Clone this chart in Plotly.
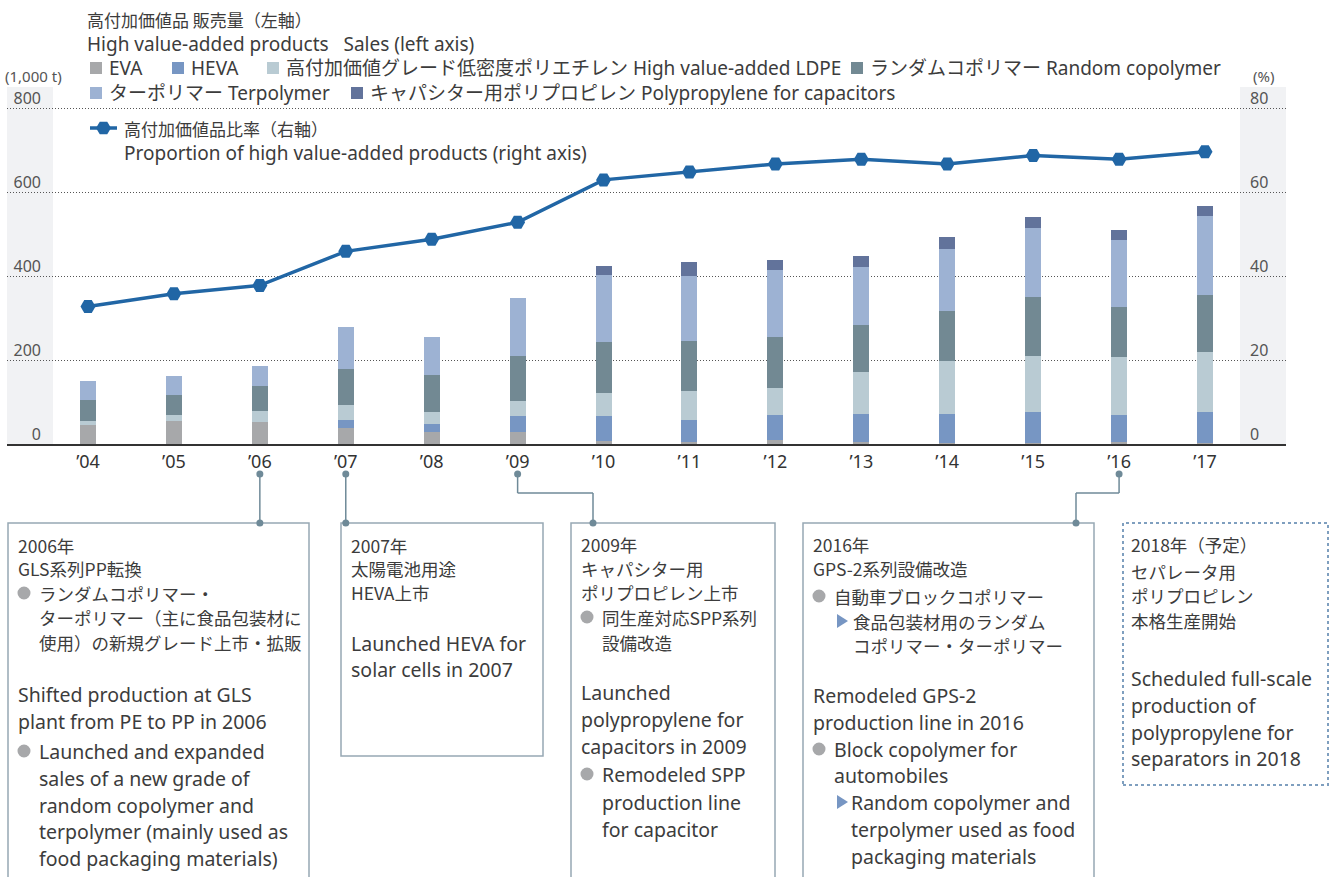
import plotly.graph_objects as go

# ---------------- data ----------------
years = [2004, 2005, 2006, 2007, 2008, 2009, 2010, 2011, 2012, 2013, 2014, 2015, 2016, 2017]
year_labels = ["’04", "’05", "’06", "’07", "’08", "’09", "’10", "’11", "’12", "’13", "’14", "’15", "’16", "’17"]

# sales volume (1,000 t), stacked bottom -> top
eva = [46, 55, 53, 39, 29, 29, 8, 5, 10, 5, 3, 2, 5, 2]
heva = [0, 0, 0, 19, 19, 38, 60, 53, 60, 67, 69, 75, 64, 75]
ldpe = [9, 15, 26, 36, 29, 36, 55, 69, 64, 100, 126, 133, 138, 143]
random_copolymer = [50, 48, 59, 86, 88, 107, 121, 119, 122, 112, 119, 141, 119, 136]
terpolymer = [45, 45, 48, 100, 91, 138, 159, 155, 159, 138, 148, 164, 159, 188]
capacitor_pp = [0, 0, 0, 0, 0, 0, 21, 33, 24, 26, 29, 26, 24, 24]

# share of high value-added products (%)
ratio = [32.8, 35.8, 37.8, 45.9, 48.8, 52.8, 62.9, 64.8, 66.7, 67.8, 66.7, 68.7, 67.8, 69.6]

series_names = [
    "EVA",
    "HEVA",
    "高付加価値グレード低密度ポリエチレン High value-added LDPE",
    "ランダムコポリマー Random copolymer",
    "ターポリマー Terpolymer",
    "キャパシター用ポリプロピレン Polypropylene for capacitors",
]
series_values = [eva, heva, ldpe, random_copolymer, terpolymer, capacitor_pp]
series_colors = ["#a7a8aa", "#7796c3", "#b9cbd3", "#728993", "#9db2d3", "#62739b"]

left_ticks = [0, 200, 400, 600, 800]
right_ticks = [0, 20, 40, 60, 80]

# ---------------- styling ----------------
W, H = 1334, 877
LINE_C = "#2166a5"
TEXT_C = "#3c3c3c"
FONT_JP = "Noto Sans CJK JP"
FONT_EN = "Noto Sans, Noto Sans CJK JP"
BOX_C = "#97a8b4"
CONN_C = "#6f8a98"


def px(x):
    return x / W


def py(y):
    return 1 - y / H


# plot area in pixels
X0, X1 = 7, 1286
Y_TOP, Y_BASE, Y_800 = 87, 444.3, 108
FIRST_PX, LAST_PX = 88, 1205
step = (LAST_PX - FIRST_PX) / (years[-1] - years[0])
x_range = [years[0] - (FIRST_PX - X0) / step, years[-1] + (X1 - LAST_PX) / step]
left_top = 800 * (Y_BASE - Y_TOP) / (Y_BASE - Y_800)

fig = go.Figure()

for name, vals, color in zip(series_names, series_values, series_colors):
    fig.add_trace(go.Bar(
        x=years, y=vals, name=name, width=16 / step,
        marker=dict(color=color, line=dict(width=0)),
        showlegend=False, hoverinfo="skip",
    ))

fig.add_trace(go.Scatter(
    x=years, y=ratio, yaxis="y2", mode="lines+markers",
    line=dict(color=LINE_C, width=3.5),
    marker=dict(symbol="hexagon2", size=15, color=LINE_C),
    showlegend=False, hoverinfo="skip",
))

fig.update_layout(
    width=W, height=H, autosize=False,
    margin=dict(l=0, r=0, t=0, b=0, pad=0, autoexpand=False),
    showlegend=False,
    paper_bgcolor="white", plot_bgcolor="white",
    barmode="stack",
    font=dict(family=FONT_EN, color=TEXT_C),
    xaxis=dict(
        domain=[px(X0), px(X1)], range=x_range,
        tickvals=years, ticktext=year_labels,
        showgrid=False, zeroline=False, automargin=False,
        showline=True, linecolor="#333333", linewidth=2,
        ticks="", tickfont=dict(size=18, color="#333333", family=FONT_EN),
    ),
    yaxis=dict(
        domain=[py(Y_BASE), py(Y_TOP)], range=[0, left_top],
        tickvals=left_ticks, showgrid=True, gridcolor="#555555",
        griddash="1px,2px", gridwidth=1, zeroline=False, showline=False,
        ticks="", anchor="free", position=px(41), automargin=False,
        tickfont=dict(size=16, color="#555555", family=FONT_EN),
        ticklabelshift=-10,
    ),
    yaxis2=dict(
        overlaying="y", side="right", range=[0, left_top / 10],
        tickvals=right_ticks, showgrid=False, zeroline=False, showline=False,
        ticks="", anchor="free", position=px(1249), automargin=False,
        tickfont=dict(size=16, color="#555555", family=FONT_EN),
        ticklabelshift=-10,
    ),
)

shapes = []
# shaded tick-label panels
for a, b in [(7, 53), (1240, 1286)]:
    shapes.append(dict(type="rect", xref="paper", yref="paper", x0=px(a), x1=px(b),
                       y0=py(Y_BASE), y1=py(Y_TOP), fillcolor="#f1f2f4",
                       line=dict(width=0), layer="below"))

annotations = []


def text(x, y, s, size, family=FONT_EN, color=TEXT_C):
    annotations.append(dict(xref="paper", yref="paper", x=px(x), y=py(y), text=s,
                            showarrow=False, xanchor="left", yanchor="middle",
                            align="left", borderpad=0,
                            font=dict(size=size, family=family, color=color)))


# axis unit captions
text(4, 76, "(1,000 t)", 15, color="#555555")
text(1252, 76, "(%)", 15, color="#555555")

# legend block
LEG_EN = 19
text(86, 19, "高付加価値品 販売量（左軸）", 17, FONT_JP)
text(86, 44, "High value-added products   Sales (left axis)", LEG_EN)
legend_pos = [(90, 68), (172, 68), (267, 68), (851, 68), (90, 93), (351, 93)]
for (lx, ly), name, color in zip(legend_pos, series_names, series_colors):
    shapes.append(dict(type="rect", xref="paper", yref="paper", x0=px(lx), x1=px(lx + 12),
                       y0=py(ly + 6), y1=py(ly - 6), fillcolor=color, line=dict(width=0)))
    text(lx + 18, ly, name, LEG_EN)

shapes.append(dict(type="line", xref="paper", yref="paper", x0=px(90), x1=px(117),
                   y0=py(128), y1=py(128), line=dict(color=LINE_C, width=3.5)))
hx, hy, r = 103.5, 128, 7.5
hexa = [(hx - r, hy), (hx - r / 2, hy - 6.3), (hx + r / 2, hy - 6.3), (hx + r, hy),
        (hx + r / 2, hy + 6.3), (hx - r / 2, hy + 6.3)]
path = "M " + " L ".join(f"{px(a)},{py(b)}" for a, b in hexa) + " Z"
shapes.append(dict(type="path", xref="paper", yref="paper", path=path,
                   fillcolor=LINE_C, line=dict(width=0)))
text(123, 128, "高付加価値品比率（右軸）", 17, FONT_JP)
text(123, 153, "Proportion of high value-added products (right axis)", LEG_EN)

# ---------------- milestone boxes ----------------
BOX_TOP = 523
boxes = [
    dict(left=8, right=309, bottom=None),
    dict(left=341, right=543, bottom=756),
    dict(left=571, right=775, bottom=None),
    dict(left=803, right=1094, bottom=None),
]
for b in boxes:
    bot = b["bottom"] if b["bottom"] is not None else 900
    pts = [(b["left"], bot), (b["left"], BOX_TOP), (b["right"], BOX_TOP), (b["right"], bot)]
    p = "M " + " L ".join(f"{px(a)},{py(c)}" for a, c in pts)
    if b["bottom"] is not None:
        p += " Z"
    shapes.append(dict(type="path", xref="paper", yref="paper", path=p,
                       line=dict(color=BOX_C, width=1.5)))
# planned milestone in a dotted frame
shapes.append(dict(type="rect", xref="paper", yref="paper", x0=px(1123), x1=px(1328),
                   y0=py(785), y1=py(BOX_TOP), line=dict(color="#7f9fbf", width=2, dash="dot")))

# connectors from the year ticks to the boxes
TICK_DOT_Y, ELBOW_Y = 474, 493


def to_year(xpx):
    return years[0] + (xpx - FIRST_PX) / step


def dot(xref, x, y):
    shapes.append(dict(type="circle", xref=xref, yref="paper", xsizemode="pixel",
                       ysizemode="pixel", xanchor=x, yanchor=py(y), x0=-3.5, x1=3.5,
                       y0=-3.5, y1=3.5, fillcolor=CONN_C, line=dict(width=0)))


def vline(x, y0, y1):
    shapes.append(dict(type="line", xref="x", yref="paper", x0=x, x1=x,
                       y0=py(y0), y1=py(y1), line=dict(color=CONN_C, width=1.5)))


for yr in (2006, 2007):
    vline(yr, TICK_DOT_Y, BOX_TOP)
    dot("x", yr, TICK_DOT_Y)
    dot("x", yr, BOX_TOP)
for yr, box_x in ((2009, 593), (2016, 1076)):
    bx = to_year(box_x)
    vline(yr, TICK_DOT_Y, ELBOW_Y)
    shapes.append(dict(type="line", xref="x", yref="paper", x0=yr, x1=bx,
                       y0=py(ELBOW_Y), y1=py(ELBOW_Y), line=dict(color=CONN_C, width=1.5)))
    vline(bx, ELBOW_Y, BOX_TOP)
    dot("x", yr, TICK_DOT_Y)
    dot("x", bx, BOX_TOP)

JP_SIZE, EN_SIZE = 17.5, 19.5
box_lines = [
    # 2006
    ("jp", 17, 545, "2006年"),
    ("jp", 17, 568, "GLS系列PP転換"),
    ("dot", 24, 593, None), ("jp", 38, 593, "ランダムコポリマー・"),
    ("jp", 38, 617, "ターポリマー（主に食品包装材に"),
    ("jp", 38, 642, "使用）の新規グレード上市・拡販"),
    ("en", 17, 694, "Shifted production at GLS"),
    ("en", 17, 721, "plant from PE to PP in 2006"),
    ("dot", 24, 751, None), ("en", 38, 751, "Launched and expanded"),
    ("en", 38, 778, "sales of a new grade of"),
    ("en", 38, 805, "random copolymer and"),
    ("en", 38, 831, "terpolymer (mainly used as"),
    ("en", 38, 858, "food packaging materials)"),
    # 2007
    ("jp", 350, 545, "2007年"),
    ("jp", 350, 568, "太陽電池用途"),
    ("jp", 350, 592, "HEVA上市"),
    ("en", 350, 643, "Launched HEVA for"),
    ("en", 350, 669, "solar cells in 2007"),
    # 2009
    ("jp", 580, 544, "2009年"),
    ("jp", 580, 568, "キャパシター用"),
    ("jp", 580, 592, "ポリプロピレン上市"),
    ("dot", 587, 617, None), ("jp", 601, 617, "同生産対応SPP系列"),
    ("jp", 601, 642, "設備改造"),
    ("en", 580, 692, "Launched"),
    ("en", 580, 719, "polypropylene for"),
    ("en", 580, 746, "capacitors in 2009"),
    ("dot", 587, 774, None), ("en", 601, 774, "Remodeled SPP"),
    ("en", 601, 802, "production line"),
    ("en", 601, 829, "for capacitor"),
    # 2016
    ("jp", 812, 544, "2016年"),
    ("jp", 812, 568, "GPS-2系列設備改造"),
    ("dot", 819, 596, None), ("jp", 833, 596, "自動車ブロックコポリマー"),
    ("tri", 842, 621, None), ("jp", 852, 621, "食品包装材用のランダム"),
    ("jp", 852, 645, "コポリマー・ターポリマー"),
    ("en", 812, 695, "Remodeled GPS-2"),
    ("en", 812, 722, "production line in 2016"),
    ("dot", 819, 749, None), ("en", 833, 749, "Block copolymer for"),
    ("en", 833, 775, "automobiles"),
    ("tri", 842, 802, None), ("en", 850, 802, "Random copolymer and"),
    ("en", 850, 829, "terpolymer used as food"),
    ("en", 850, 856, "packaging materials"),
    # 2018 (planned)
    ("jp", 1130, 544, "2018年（予定）"),
    ("jp", 1130, 571, "セパレータ用"),
    ("jp", 1130, 595, "ポリプロピレン"),
    ("jp", 1130, 620, "本格生産開始"),
    ("en", 1130, 678, "Scheduled full-scale"),
    ("en", 1130, 705, "production of"),
    ("en", 1130, 732, "polypropylene for"),
    ("en", 1130, 758, "separators in 2018"),
]

for kind, x, y, s in box_lines:
    if kind == "jp":
        text(x, y, s, JP_SIZE, FONT_JP)
    elif kind == "en":
        text(x, y, s, EN_SIZE)
    elif kind == "dot":
        shapes.append(dict(type="circle", xref="paper", yref="paper",
                           x0=px(x - 6.5), x1=px(x + 6.5), y0=py(y + 6.5), y1=py(y - 6.5),
                           fillcolor="#a7a8aa", line=dict(width=0)))
    elif kind == "tri":
        tri = [(x - 5, y - 7), (x + 6, y), (x - 5, y + 7)]
        p = "M " + " L ".join(f"{px(a)},{py(c)}" for a, c in tri) + " Z"
        shapes.append(dict(type="path", xref="paper", yref="paper", path=p,
                           fillcolor="#7796c3", line=dict(width=0)))

fig.update_layout(shapes=shapes, annotations=annotations)

fig.write_html("out.html", config={"displayModeBar": False})
